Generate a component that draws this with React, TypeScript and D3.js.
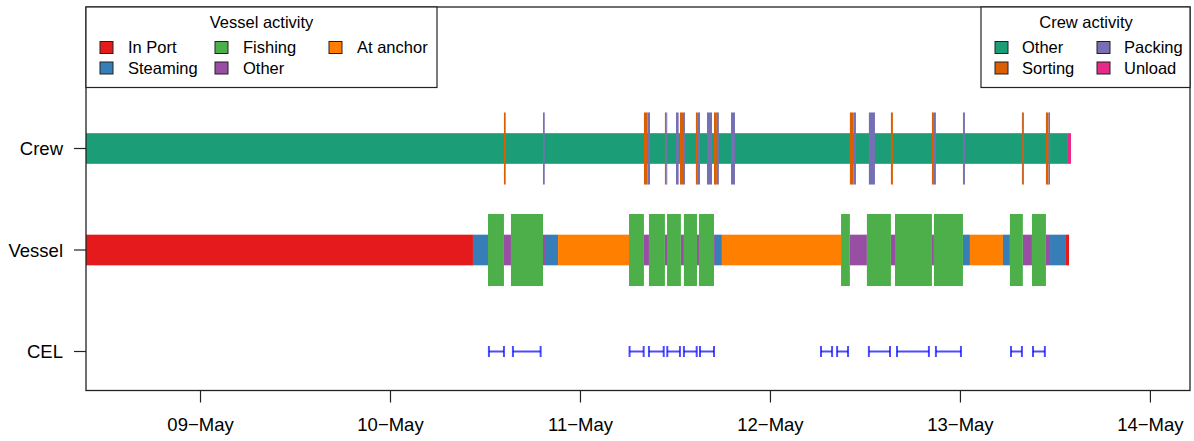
import React from "react";
import * as d3 from "d3";

const W = 1194;
const H = 441;

// ---------- data ----------
const xLimits = ["2024-05-08T09:32", "2024-05-14T05:00"];
const tickDates = ["2024-05-09T00:00", "2024-05-10T00:00", "2024-05-11T00:00", "2024-05-12T00:00", "2024-05-13T00:00", "2024-05-14T00:00"];
const tickLabels = ["09\u2212May", "10\u2212May", "11\u2212May", "12\u2212May", "13\u2212May", "14\u2212May"];

const rows = ["CEL", "Vessel", "Crew"];

const vesselTimes = [
  "2024-05-08T09:32", "2024-05-10T10:25", "2024-05-10T12:19", "2024-05-10T14:20", "2024-05-10T15:13",
  "2024-05-10T19:16", "2024-05-10T19:31", "2024-05-10T21:10", "2024-05-11T06:08", "2024-05-11T08:01",
  "2024-05-11T08:39", "2024-05-11T10:40", "2024-05-11T10:56", "2024-05-11T12:41", "2024-05-11T13:04",
  "2024-05-11T14:43", "2024-05-11T14:58", "2024-05-11T16:52", "2024-05-11T16:59", "2024-05-11T17:52",
  "2024-05-12T08:55", "2024-05-12T10:02", "2024-05-12T12:11", "2024-05-12T15:13", "2024-05-12T15:44",
  "2024-05-12T20:24", "2024-05-12T20:39", "2024-05-13T00:19", "2024-05-13T01:12", "2024-05-13T05:22",
  "2024-05-13T06:15", "2024-05-13T07:53", "2024-05-13T09:02", "2024-05-13T10:48", "2024-05-13T11:19",
  "2024-05-13T13:20", "2024-05-13T13:43",
];
const vesselActivity = [
  "In Port", "Steaming", "Fishing", "Other", "Fishing", "Other", "Steaming", "At anchor",
  "Fishing", "Other", "Fishing", "Other", "Fishing", "Other", "Fishing", "Other", "Fishing", "Other",
  "Steaming", "At anchor", "Fishing", "Other", "Fishing", "Other", "Fishing", "Other", "Fishing",
  "Steaming", "At anchor", "Steaming", "Fishing", "Other", "Fishing", "Other", "Steaming", "In Port",
];

const crewStart = [
  "2024-05-08T09:32", "2024-05-13T13:35",
  // Sorting
  "2024-05-10T14:20", "2024-05-11T08:01", "2024-05-11T10:40", "2024-05-11T12:34", "2024-05-11T14:35",
  "2024-05-11T16:52", "2024-05-12T10:02", "2024-05-12T15:13", "2024-05-12T20:24", "2024-05-13T00:19",
  "2024-05-13T07:46", "2024-05-13T10:48",
  // Packing
  "2024-05-10T19:16", "2024-05-11T08:29", "2024-05-11T10:50", "2024-05-11T12:04", "2024-05-11T12:57",
  "2024-05-11T14:50", "2024-05-11T15:59", "2024-05-11T17:14", "2024-05-11T19:01", "2024-05-12T10:31",
  "2024-05-12T12:26", "2024-05-12T20:39", "2024-05-13T00:26", "2024-05-13T07:53", "2024-05-13T11:08",
];
const crewEnd = [
  "2024-05-13T13:35", "2024-05-13T13:58",
  "2024-05-10T14:33", "2024-05-11T08:29", "2024-05-11T10:50", "2024-05-11T12:57", "2024-05-11T14:50",
  "2024-05-11T17:14", "2024-05-12T10:31", "2024-05-12T15:28", "2024-05-12T20:39", "2024-05-13T00:26",
  "2024-05-13T07:53", "2024-05-13T11:08",
  "2024-05-10T19:29", "2024-05-11T08:47", "2024-05-11T10:56", "2024-05-11T12:24", "2024-05-11T13:12",
  "2024-05-11T15:06", "2024-05-11T16:37", "2024-05-11T17:29", "2024-05-11T19:31", "2024-05-12T10:48",
  "2024-05-12T13:12", "2024-05-12T20:54", "2024-05-13T00:34", "2024-05-13T08:01", "2024-05-13T11:19",
];
const crewActivity = [
  "Other", "Unload",
  "Sorting", "Sorting", "Sorting", "Sorting", "Sorting", "Sorting", "Sorting", "Sorting", "Sorting", "Sorting", "Sorting", "Sorting",
  "Packing", "Packing", "Packing", "Packing", "Packing", "Packing", "Packing", "Packing", "Packing", "Packing",
  "Packing", "Packing", "Packing", "Packing", "Packing",
];

const celStart = [
  "2024-05-10T12:26", "2024-05-10T15:28", "2024-05-11T06:12", "2024-05-11T08:39", "2024-05-11T10:58",
  "2024-05-11T13:04", "2024-05-11T15:06", "2024-05-12T06:23", "2024-05-12T08:25", "2024-05-12T12:26",
  "2024-05-12T15:59", "2024-05-12T20:54", "2024-05-13T06:23", "2024-05-13T09:10",
];
const celEnd = [
  "2024-05-10T14:20", "2024-05-10T18:58", "2024-05-11T07:59", "2024-05-11T10:31", "2024-05-11T12:34",
  "2024-05-11T14:41", "2024-05-11T16:52", "2024-05-12T07:47", "2024-05-12T09:48", "2024-05-12T15:06",
  "2024-05-12T20:01", "2024-05-13T00:04", "2024-05-13T07:46", "2024-05-13T10:40",
];

const vesselLegend = ["In Port", "Steaming", "Fishing", "Other", "At anchor"];
const vesselColors = ["#E41A1C", "#377EB8", "#4DAF4A", "#984EA3", "#FF7F00"];
const crewLegend = ["Other", "Sorting", "Packing", "Unload"];
const crewColors = ["#1B9E77", "#D95F02", "#7570B3", "#E7298A"];

// ---------- layout ----------
const plot = { left: 86, right: 1190, top: 7, bottom: 390.5 };
const FONT = "'Liberation Sans', Arial, Helvetica, sans-serif";

const parse = d3.timeParse("%Y-%m-%dT%H:%M");

export default function App() {
  const x = d3
    .scaleTime()
    .domain(xLimits.map((d) => parse(d) as Date))
    .range([plot.left, plot.right]);
  const y = d3.scaleLinear().domain([1, 3]).range([351.5, 148.5]);
  const yRow = (name: string) => y(rows.indexOf(name) + 1);
  const vColor = d3.scaleOrdinal<string, string>().domain(vesselLegend).range(vesselColors);
  const cColor = d3.scaleOrdinal<string, string>().domain(crewLegend).range(crewColors);
  const baseHalf = 0.151;
  const tallHalf = 0.355;

  const vesselSegs = vesselActivity.map((a, i) => ({
    a,
    x0: x(parse(vesselTimes[i]) as Date),
    x1: x(parse(vesselTimes[i + 1]) as Date),
  }));
  const crewSegs = crewActivity.map((a, i) => ({
    a,
    x0: x(parse(crewStart[i]) as Date),
    x1: x(parse(crewEnd[i]) as Date),
  }));
  const celSegs = celStart.map((s, i) => ({
    x0: x(parse(s) as Date),
    x1: x(parse(celEnd[i]) as Date),
  }));

  const ly = yRow("CEL");
  const rectY = (row: number, half: number) => ({ y: y(row + half), h: y(row - half) - y(row + half) });
  const vRow = rows.indexOf("Vessel") + 1;
  const cRow = rows.indexOf("Crew") + 1;
  const vBase = rectY(vRow, baseHalf);
  const vTall = rectY(vRow, tallHalf);
  const cBase = rectY(cRow, baseHalf);
  const cTall = rectY(cRow, tallHalf);

  const ticks = tickDates.map((d) => x(parse(d) as Date));

  const legendSq = (key: string, xs: number, ys: number, fill: string) => (
    <rect key={key} x={xs} y={ys} width={13} height={12} fill={fill} stroke="#222" strokeWidth={1} />
  );

  return (
    <svg
      width={W}
      height={H}
      style={{ position: "absolute", left: 0, top: 0, display: "block", background: "#fff" }}
      fontFamily={FONT}
    >
      <rect x={0} y={0} width={W} height={H} fill="#fff" />
      {/* Crew base */}
      {crewSegs
        .filter((s) => s.a === "Other" || s.a === "Unload")
        .map((s, i) => (
          <rect key={"cb" + i} x={s.x0} y={cBase.y} width={s.x1 - s.x0} height={cBase.h} fill={cColor(s.a)} />
        ))}
      {crewSegs
        .filter((s) => s.a === "Sorting" || s.a === "Packing")
        .map((s, i) => (
          <rect key={"ct" + i} x={s.x0} y={cTall.y} width={Math.max(1, s.x1 - s.x0)} height={cTall.h} fill={cColor(s.a)} />
        ))}
      {/* Vessel base */}
      {vesselSegs
        .filter((s) => s.a !== "Fishing")
        .map((s, i) => (
          <rect key={"vb" + i} x={s.x0} y={vBase.y} width={s.x1 - s.x0} height={vBase.h} fill={vColor(s.a)} />
        ))}
      {vesselSegs
        .filter((s) => s.a === "Fishing")
        .map((s, i) => (
          <rect key={"vt" + i} x={s.x0} y={vTall.y} width={s.x1 - s.x0} height={vTall.h} fill={vColor(s.a)} />
        ))}
      {/* CEL intervals */}
      <g stroke="rgba(0,0,255,0.7)" strokeWidth={2} fill="none">
        {celSegs.map((s, i) => (
          <g key={"cel" + i}>
            <line x1={s.x0} x2={s.x1} y1={ly} y2={ly} />
            <line x1={s.x0} x2={s.x0} y1={ly - 5.5} y2={ly + 5.5} />
            <line x1={s.x1} x2={s.x1} y1={ly - 5.5} y2={ly + 5.5} />
          </g>
        ))}
      </g>

      {/* frame */}
      <rect
        x={plot.left}
        y={plot.top}
        width={plot.right - plot.left}
        height={plot.bottom - plot.top}
        fill="none"
        stroke="#222"
        strokeWidth={1.3}
      />
      {/* x axis */}
      {ticks.map((tx, i) => (
        <g key={"xt" + i}>
          <line x1={tx} x2={tx} y1={plot.bottom} y2={plot.bottom + 12} stroke="#222" strokeWidth={1.2} />
          <text x={tx} y={431} textAnchor="middle" fontSize={18.5} fill="#000">
            {tickLabels[i]}
          </text>
        </g>
      ))}
      {/* y axis */}
      {rows.map((r) => (
        <g key={"yt" + r}>
          <line x1={plot.left - 12} x2={plot.left} y1={yRow(r)} y2={yRow(r)} stroke="#222" strokeWidth={1.2} />
          <text x={63} y={yRow(r) + 6.5} textAnchor="end" fontSize={18.5} fill="#000">
            {r}
          </text>
        </g>
      ))}

      {/* Vessel legend */}
      <g>
        <rect x={86} y={7} width={351} height={80.5} fill="#fff" stroke="#222" strokeWidth={1.2} />
        <text x={261.5} y={27.5} textAnchor="middle" fontSize={16.5}>
          Vessel activity
        </text>
        {vesselLegend.map((name, i) => {
          const col = Math.floor(i / 2);
          const row = i % 2;
          const sx = [100, 215, 329][col];
          const tx = [128, 243, 357][col];
          const yy = 41.5 + row * 20.5;
          return (
            <g key={"vl" + i}>
              {legendSq("vls" + i, sx, yy, vesselColors[i])}
              <text x={tx} y={yy + 11.8} fontSize={16.5}>
                {name}
              </text>
            </g>
          );
        })}
      </g>
      {/* Crew legend */}
      <g>
        <rect x={981} y={7} width={209} height={80.5} fill="#fff" stroke="#222" strokeWidth={1.2} />
        <text x={1086} y={27.5} textAnchor="middle" fontSize={16.5}>
          Crew activity
        </text>
        {crewLegend.map((name, i) => {
          const col = Math.floor(i / 2);
          const row = i % 2;
          const sx = [995, 1097][col];
          const tx = [1022, 1124][col];
          const yy = 41.5 + row * 20.5;
          return (
            <g key={"cl" + i}>
              {legendSq("cls" + i, sx, yy, crewColors[i])}
              <text x={tx} y={yy + 11.8} fontSize={16.5}>
                {name}
              </text>
            </g>
          );
        })}
      </g>
    </svg>
  );
}
